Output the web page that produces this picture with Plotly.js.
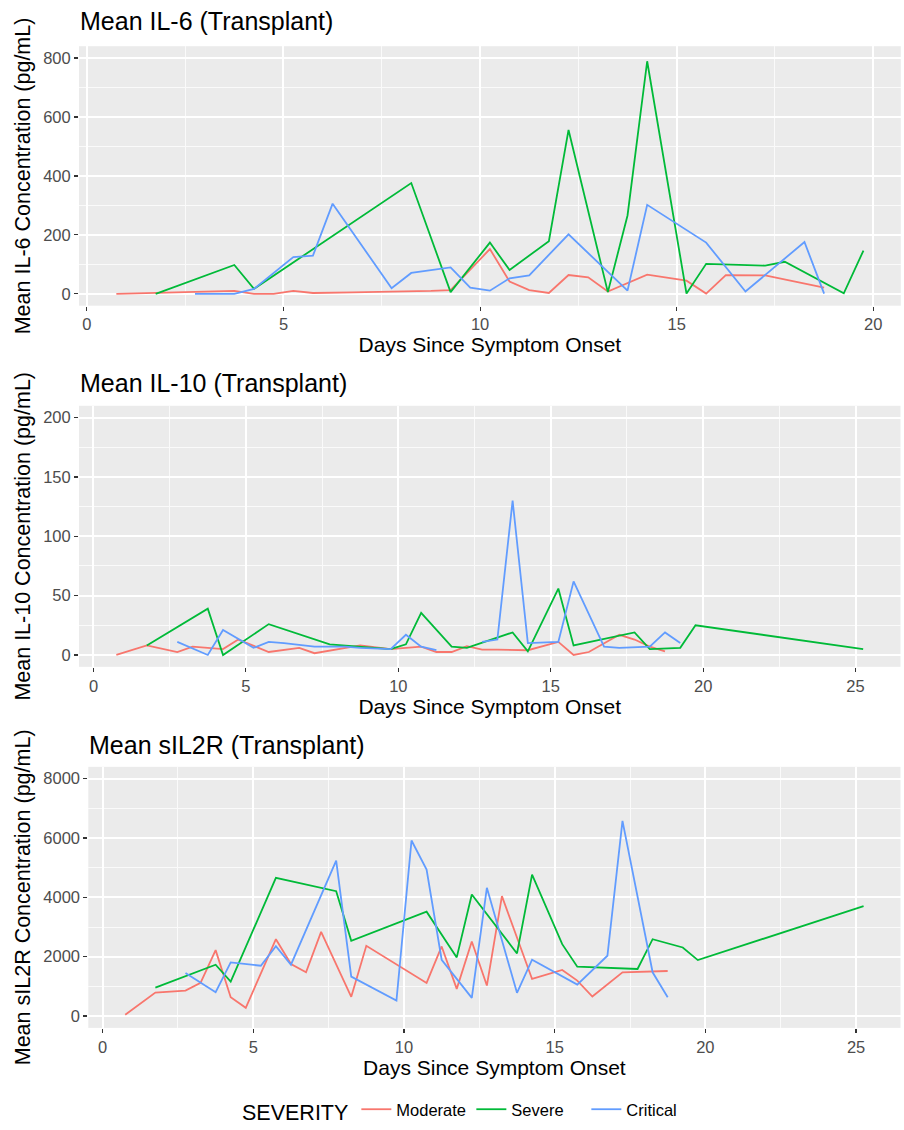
<!DOCTYPE html>
<html>
<head>
<meta charset="utf-8">
<script src="https://cdn.plot.ly/plotly-3.0.1.min.js"></script>
<style>html,body{margin:0;padding:0;background:#fff;}#chart{width:904px;height:1130px;}</style>
</head>
<body>
<div id="chart"></div>
<script>
// ---------- Data ----------
const severityLevels = ["Moderate", "Severe", "Critical"];
const severityColors = ["#F8766D", "#00BA38", "#619CFF"];

// IL-6
const il6ModerateDays = [0.75, 3.75, 4.25, 4.75, 5.25, 5.75, 6.75, 7.75, 8.75, 9.25, 10.25, 10.75, 11.25, 11.75, 12.25, 12.75, 13.25, 14.25, 15.25, 15.75, 16.25, 17.25, 18.75];
const il6ModerateVals = [0, 10, 0, 0, 10, 3, 5, 7, 10, 13, 152, 42, 13, 3, 64, 56, 8, 65, 45, 1, 64, 63, 21];
const il6SevereDays = [1.75, 3.75, 4.25, 8.25, 9.25, 10.25, 10.75, 11.75, 12.25, 13.25, 13.75, 14.25, 15.25, 15.75, 17.25, 17.75, 19.25, 19.75];
const il6SevereVals = [0, 98, 17, 376, 6, 174, 81, 179, 556, 6, 266, 789, 1, 102, 96, 109, 2, 147];
const il6CriticalDays = [2.75, 3.75, 4.25, 5.25, 5.75, 6.25, 7.75, 8.25, 9.25, 9.75, 10.25, 10.75, 11.25, 12.25, 13.75, 14.25, 15.75, 16.75, 18.25, 18.75];
const il6CriticalVals = [0, 0, 17, 125, 130, 306, 19, 71, 90, 21, 11, 53, 63, 202, 11, 302, 174, 8, 176, 1];

// IL-10
const il10ModerateDays = [0.75, 1.75, 2.75, 3.25, 4.25, 4.75, 5.75, 6.75, 7.25, 8.75, 9.75, 10.75, 11.25, 11.75, 12.25, 12.75, 13.25, 14.25, 15.25, 15.75, 16.25, 17.25, 17.75, 18.25, 18.75];
const il10ModerateVals = [0, 8, 2.5, 7, 5, 13, 2.5, 6, 1.5, 8, 5, 7, 2.5, 2.5, 7.5, 4.5, 4.5, 4, 11, 0, 2.5, 17, 13, 7, 3];
const il10SevereDays = [1.75, 3.75, 4.25, 5.75, 7.75, 9.75, 10.25, 10.75, 11.75, 12.25, 13.75, 14.25, 15.25, 15.75, 17.75, 18.25, 19.25, 19.75, 25.25];
const il10SevereVals = [8, 39, 0, 26, 9, 5, 9, 35.5, 7, 6, 19, 3, 56, 8, 19, 5, 6, 25, 5];
const il10CriticalDays = [2.75, 3.75, 4.25, 5.25, 5.75, 6.25, 7.25, 8.25, 8.75, 9.75, 10.25, 10.75, 11.25, 11.75, 12.75, 13.25, 13.75, 14.25, 15.25, 15.75, 16.75, 17.25, 18.25, 18.75, 19.25];
const il10CriticalVals = [11, 0, 21, 6, 11, 10, 7, 7, 6, 5, 17, 7, 4, null, 11, 13, 130, 10, 11, 62, 7, 6, 7, 19, 10];

// sIL2R
const sil2rModerateDays = [0.75, 1.75, 2.75, 3.25, 3.75, 4.25, 4.75, 5.75, 6.25, 6.75, 7.25, 8.25, 8.75, 10.25, 10.75, 11.25, 11.75, 12.25, 12.75, 13.25, 14.25, 15.25, 15.75, 16.25, 17.25, 18.75];
const sil2rModerateVals = [44, 790, 858, 1116, 2221, 636, 278, 2590, 1752, 1474, 2835, 647, 2366, 1417, 1116, 2345, 915, 2512, 1027, 4041, 1250, 1551, 1194, 657, 1474, 1518];
const sil2rSevereDays = [1.75, 3.75, 4.25, 5.75, 7.75, 8.25, 10.75, 11.75, 12.25, 13.75, 14.25, 15.25, 15.75, 17.75, 18.25, 19.25, 19.75, 25.25];
const sil2rSevereVals = [958, 1730, 1160, 4656, 4209, 2533, 3517, 1976, 4097, 2110, 4767, 2422, 1662, 1585, 2590, 2311, 1886, 3705];
const sil2rCriticalDays = [2.75, 3.75, 4.25, 5.25, 5.75, 6.25, 7.75, 8.25, 9.75, 10.25, 10.75, 11.25, 12.25, 12.75, 13.75, 14.25, 15.75, 16.75, 17.25, 18.25, 18.75];
const sil2rCriticalVals = [1451, 804, 1809, 1695, 2355, 1729, 5236, 1327, 523, 5917, 4935, 1897, 613, 4320, 781, 1897, 1059, 2031, 6576, 1474, 636];

// Panel texts
const panelTitles = ["Mean IL-6 (Transplant)", "Mean IL-10 (Transplant)", "Mean sIL2R (Transplant)"];
const yTitles = ["Mean IL-6 Concentration (pg/mL)", "Mean IL-10 Concentration (pg/mL)", "Mean sIL2R Concentration (pg/mL)"];
const xTitle = "Days Since Symptom Onset";
const legendTitle = "SEVERITY";

// ---------- Build ----------
const panels = [
  {days: [il6ModerateDays, il6SevereDays, il6CriticalDays], vals: [il6ModerateVals, il6SevereVals, il6CriticalVals]},
  {days: [il10ModerateDays, il10SevereDays, il10CriticalDays], vals: [il10ModerateVals, il10SevereVals, il10CriticalVals]},
  {days: [sil2rModerateDays, sil2rSevereDays, sil2rCriticalDays], vals: [sil2rModerateVals, sil2rSevereVals, sil2rCriticalVals]}
];

const traces = [];
panels.forEach((p, pi) => {
  severityLevels.forEach((lvl, si) => {
    traces.push({
      type: "scatter", mode: "lines",
      x: p.days[si], y: p.vals[si],
      name: lvl, legendgroup: lvl, showlegend: pi === 0,
      connectgaps: false,
      line: {color: severityColors[si], width: 1.8},
      xaxis: pi === 0 ? "x" : "x" + (pi + 1),
      yaxis: pi === 0 ? "y" : "y" + (pi + 1),
      hoverinfo: "skip"
    });
  });
});

const W = 904, H = 1130;
const FONT = "Liberation Sans, Arial, Helvetica, sans-serif";
function xd(l, r) { return [l / W, r / W]; }
function yd(t, b) { return [1 - b / H, 1 - t / H]; }

function xaxis(dom, range, anchor) {
  return {
    domain: dom, range: range, anchor: anchor,
    dtick: 5, tick0: 0, ticks: "outside", ticklen: 4, tickwidth: 1.1, tickcolor: "#333333",
    tickfont: {family: FONT, size: 16.5, color: "#4D4D4D"},
    showgrid: true, gridcolor: "#FFFFFF", gridwidth: 2,
    minor: {dtick: 2.5, tick0: 0, showgrid: true, gridcolor: "#FAFAFA", gridwidth: 1, ticks: ""},
    zeroline: false, showline: false,
    title: {text: xTitle, font: {family: FONT, size: 21, color: "#000000"}, standoff: 2}
  };
}
function yaxis(dom, range, dtick, title, anchor) {
  return {
    domain: dom, range: range, anchor: anchor,
    dtick: dtick, tick0: 0, ticks: "outside", ticklen: 4, tickwidth: 1.1, tickcolor: "#333333",
    tickfont: {family: FONT, size: 16.5, color: "#4D4D4D"},
    showgrid: true, gridcolor: "#FFFFFF", gridwidth: 2,
    minor: {dtick: dtick / 2, tick0: 0, showgrid: true, gridcolor: "#FAFAFA", gridwidth: 1, ticks: ""},
    zeroline: false, showline: false,
    title: {text: title, font: {family: FONT, size: 21.5, color: "#000000"}, standoff: 6}
  };
}

const layout = {
  width: W, height: H,
  margin: {l: 0, r: 0, t: 0, b: 0, pad: 0},
  paper_bgcolor: "#FFFFFF", plot_bgcolor: "#EBEBEB",
  font: {family: FONT},
  showlegend: true,
  xaxis: xaxis(xd(79, 900.8), [-0.2, 20.7], "y"),
  yaxis: yaxis(yd(46.5, 307.6), [-40, 840], 200, yTitles[0], "x"),
  xaxis2: xaxis(xd(79, 900.5), [-0.475, 26.475], "y2"),
  yaxis2: yaxis(yd(408.3, 671), [-10, 210], 50, yTitles[1], "x2"),
  xaxis3: xaxis(xd(88.3, 900.5), [-0.475, 26.475], "y3"),
  yaxis3: yaxis(yd(771.6, 1034.3), [-400, 8400], 2000, yTitles[2], "x3"),
  legend: {
    orientation: "h", x: 240 / W, xanchor: "left", y: 1 - 1118 / H, yanchor: "middle",
    title: {text: legendTitle, font: {family: FONT, size: 21.5, color: "#000000"}, side: "left"},
    font: {family: FONT, size: 16.5, color: "#000000"},
    bgcolor: "rgba(0,0,0,0)", itemwidth: 30, tracegroupgap: 0,
    entrywidth: 70, entrywidthmode: "pixels"
  },
  annotations: [
    {text: panelTitles[0], xref: "paper", yref: "paper", x: 78 / W, y: 1 - 21 / H, xanchor: "left", yanchor: "middle", showarrow: false, font: {family: FONT, size: 25, color: "#000000"}},
    {text: panelTitles[1], xref: "paper", yref: "paper", x: 78 / W, y: 1 - 385 / H, xanchor: "left", yanchor: "middle", showarrow: false, font: {family: FONT, size: 25, color: "#000000"}},
    {text: panelTitles[2], xref: "paper", yref: "paper", x: 87 / W, y: 1 - 750 / H, xanchor: "left", yanchor: "middle", showarrow: false, font: {family: FONT, size: 25, color: "#000000"}}
  ]
};

Plotly.newPlot("chart", traces, layout, {staticPlot: true, displayModeBar: false});
</script>
</body>
</html>
